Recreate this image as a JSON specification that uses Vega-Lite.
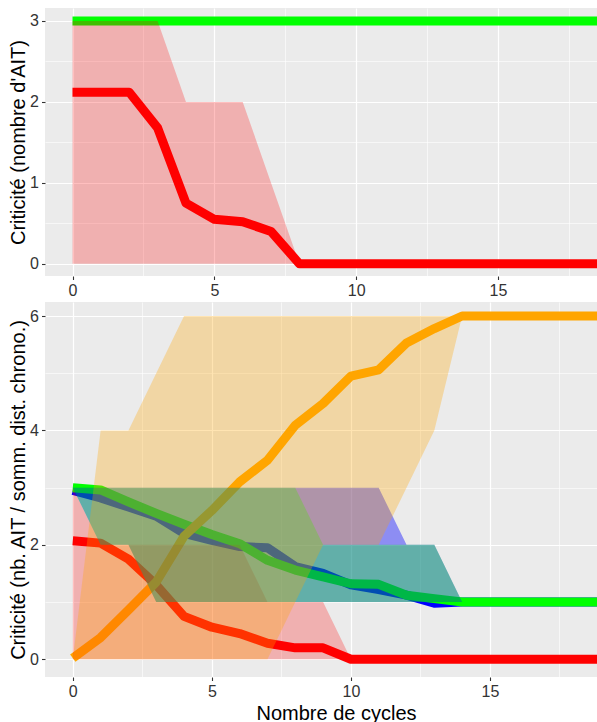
{
  "$schema": "https://vega.github.io/schema/vega-lite/v6.json",
  "padding": {"left": 8, "top": 8, "right": 0, "bottom": 0},
  "background": "white",
  "spacing": 26,
  "bounds": "flush",
  "config": {
    "view": {"fill": "#EBEBEB", "stroke": null},
    "font": "Liberation Sans",
    "axis": {
      "domain": false,
      "gridColor": "#FFFFFF",
      "tickColor": "#333333",
      "tickSize": 3.5,
      "tickWidth": 1.1,
      "labelFont": "Liberation Sans",
      "labelFontSize": 16,
      "labelColor": "#333333",
      "labelPadding": 3,
      "titleFont": "Liberation Sans",
      "titleFontSize": 20,
      "titleFontWeight": "normal",
      "titleColor": "#000000"
    },
    "axisY": {"titlePadding": 1}
  },
  "datasets": {
    "top": [
      {"s": "red", "x": 0, "y": 2.12, "lo": 0, "hi": 3},
      {"s": "red", "x": 1, "y": 2.12, "lo": 0, "hi": 3},
      {"s": "red", "x": 2, "y": 2.12, "lo": 0, "hi": 3},
      {"s": "red", "x": 3, "y": 1.68, "lo": 0, "hi": 3},
      {"s": "red", "x": 4, "y": 0.75, "lo": 0, "hi": 2},
      {"s": "red", "x": 5, "y": 0.55, "lo": 0, "hi": 2},
      {"s": "red", "x": 6, "y": 0.52, "lo": 0, "hi": 2},
      {"s": "red", "x": 7, "y": 0.4, "lo": 0, "hi": 1},
      {"s": "red", "x": 8, "y": 0, "lo": 0, "hi": 0},
      {"s": "red", "x": 9, "y": 0, "lo": null, "hi": null},
      {"s": "red", "x": 10, "y": 0, "lo": null, "hi": null},
      {"s": "red", "x": 11, "y": 0, "lo": null, "hi": null},
      {"s": "red", "x": 12, "y": 0, "lo": null, "hi": null},
      {"s": "red", "x": 13, "y": 0, "lo": null, "hi": null},
      {"s": "red", "x": 14, "y": 0, "lo": null, "hi": null},
      {"s": "red", "x": 15, "y": 0, "lo": null, "hi": null},
      {"s": "red", "x": 16, "y": 0, "lo": null, "hi": null},
      {"s": "red", "x": 17, "y": 0, "lo": null, "hi": null},
      {"s": "red", "x": 18, "y": 0, "lo": null, "hi": null},
      {"s": "red", "x": 19, "y": 0, "lo": null, "hi": null},
      {"s": "red", "x": 20, "y": 0, "lo": null, "hi": null},
      {"s": "green", "x": 0, "y": 3}, {"s": "green", "x": 1, "y": 3}, {"s": "green", "x": 2, "y": 3},
      {"s": "green", "x": 3, "y": 3}, {"s": "green", "x": 4, "y": 3}, {"s": "green", "x": 5, "y": 3},
      {"s": "green", "x": 6, "y": 3}, {"s": "green", "x": 7, "y": 3}, {"s": "green", "x": 8, "y": 3},
      {"s": "green", "x": 9, "y": 3}, {"s": "green", "x": 10, "y": 3}, {"s": "green", "x": 11, "y": 3},
      {"s": "green", "x": 12, "y": 3}, {"s": "green", "x": 13, "y": 3}, {"s": "green", "x": 14, "y": 3},
      {"s": "green", "x": 15, "y": 3}, {"s": "green", "x": 16, "y": 3}, {"s": "green", "x": 17, "y": 3},
      {"s": "green", "x": 18, "y": 3}, {"s": "green", "x": 19, "y": 3}, {"s": "green", "x": 20, "y": 3}
    ],
    "bottom": [
      {"s": "red", "x": 0, "y": 2.07, "lo": 0, "hi": 3},
      {"s": "red", "x": 1, "y": 2.03, "lo": 0, "hi": 2},
      {"s": "red", "x": 2, "y": 1.75, "lo": 0, "hi": 2},
      {"s": "red", "x": 3, "y": 1.3, "lo": 0, "hi": 2},
      {"s": "red", "x": 4, "y": 0.75, "lo": 0, "hi": 2},
      {"s": "red", "x": 5, "y": 0.56, "lo": 0, "hi": 2},
      {"s": "red", "x": 6, "y": 0.45, "lo": 0, "hi": 2},
      {"s": "red", "x": 7, "y": 0.28, "lo": 0, "hi": 1},
      {"s": "red", "x": 8, "y": 0.2, "lo": 0, "hi": 1},
      {"s": "red", "x": 9, "y": 0.2, "lo": 0, "hi": 1},
      {"s": "red", "x": 10, "y": 0, "lo": 0, "hi": 0},
      {"s": "red", "x": 11, "y": 0, "lo": null, "hi": null},
      {"s": "red", "x": 12, "y": 0, "lo": null, "hi": null},
      {"s": "red", "x": 13, "y": 0, "lo": null, "hi": null},
      {"s": "red", "x": 14, "y": 0, "lo": null, "hi": null},
      {"s": "red", "x": 15, "y": 0, "lo": null, "hi": null},
      {"s": "red", "x": 16, "y": 0, "lo": null, "hi": null},
      {"s": "red", "x": 17, "y": 0, "lo": null, "hi": null},
      {"s": "red", "x": 18, "y": 0, "lo": null, "hi": null},
      {"s": "red", "x": 19, "y": 0, "lo": null, "hi": null},
      {"s": "red", "x": 20, "y": 0, "lo": null, "hi": null},
      {"s": "blue", "x": 0, "y": 2.95, "lo": 3, "hi": 3},
      {"s": "blue", "x": 1, "y": 2.82, "lo": 2, "hi": 3},
      {"s": "blue", "x": 2, "y": 2.66, "lo": 2, "hi": 3},
      {"s": "blue", "x": 3, "y": 2.5, "lo": 1, "hi": 3},
      {"s": "blue", "x": 4, "y": 2.2, "lo": 1, "hi": 3},
      {"s": "blue", "x": 5, "y": 2.08, "lo": 1, "hi": 3},
      {"s": "blue", "x": 6, "y": 1.97, "lo": 1, "hi": 3},
      {"s": "blue", "x": 7, "y": 1.95, "lo": 1, "hi": 3},
      {"s": "blue", "x": 8, "y": 1.62, "lo": 1, "hi": 3},
      {"s": "blue", "x": 9, "y": 1.5, "lo": 1, "hi": 3},
      {"s": "blue", "x": 10, "y": 1.3, "lo": 1, "hi": 3},
      {"s": "blue", "x": 11, "y": 1.22, "lo": 1, "hi": 3},
      {"s": "blue", "x": 12, "y": 1.12, "lo": 1, "hi": 2},
      {"s": "blue", "x": 13, "y": 0.98, "lo": 1, "hi": 2},
      {"s": "blue", "x": 14, "y": 1.0, "lo": 1, "hi": 1},
      {"s": "blue", "x": 15, "y": 1, "lo": null, "hi": null},
      {"s": "blue", "x": 16, "y": 1, "lo": null, "hi": null},
      {"s": "blue", "x": 17, "y": 1, "lo": null, "hi": null},
      {"s": "blue", "x": 18, "y": 1, "lo": null, "hi": null},
      {"s": "blue", "x": 19, "y": 1, "lo": null, "hi": null},
      {"s": "blue", "x": 20, "y": 1, "lo": null, "hi": null},
      {"s": "green", "x": 0, "y": 3.0, "lo": 3, "hi": 3},
      {"s": "green", "x": 1, "y": 2.96, "lo": 2, "hi": 3},
      {"s": "green", "x": 2, "y": 2.75, "lo": 2, "hi": 3},
      {"s": "green", "x": 3, "y": 2.55, "lo": 1, "hi": 3},
      {"s": "green", "x": 4, "y": 2.36, "lo": 1, "hi": 3},
      {"s": "green", "x": 5, "y": 2.18, "lo": 1, "hi": 3},
      {"s": "green", "x": 6, "y": 2.02, "lo": 1, "hi": 3},
      {"s": "green", "x": 7, "y": 1.73, "lo": 1, "hi": 3},
      {"s": "green", "x": 8, "y": 1.56, "lo": 1, "hi": 3},
      {"s": "green", "x": 9, "y": 1.44, "lo": 1, "hi": 2},
      {"s": "green", "x": 10, "y": 1.32, "lo": 1, "hi": 2},
      {"s": "green", "x": 11, "y": 1.31, "lo": 1, "hi": 2},
      {"s": "green", "x": 12, "y": 1.12, "lo": 1, "hi": 2},
      {"s": "green", "x": 13, "y": 1.06, "lo": 1, "hi": 2},
      {"s": "green", "x": 14, "y": 1.0, "lo": 1, "hi": 1},
      {"s": "green", "x": 15, "y": 1, "lo": null, "hi": null},
      {"s": "green", "x": 16, "y": 1, "lo": null, "hi": null},
      {"s": "green", "x": 17, "y": 1, "lo": null, "hi": null},
      {"s": "green", "x": 18, "y": 1, "lo": null, "hi": null},
      {"s": "green", "x": 19, "y": 1, "lo": null, "hi": null},
      {"s": "green", "x": 20, "y": 1, "lo": null, "hi": null},
      {"s": "orange", "x": 0, "y": 0.02, "lo": 0, "hi": 0},
      {"s": "orange", "x": 1, "y": 0.38, "lo": 0, "hi": 4},
      {"s": "orange", "x": 2, "y": 0.86, "lo": 0, "hi": 4},
      {"s": "orange", "x": 3, "y": 1.35, "lo": 0, "hi": 5},
      {"s": "orange", "x": 4, "y": 2.15, "lo": 0, "hi": 6},
      {"s": "orange", "x": 5, "y": 2.6, "lo": 0, "hi": 6},
      {"s": "orange", "x": 6, "y": 3.1, "lo": 0, "hi": 6},
      {"s": "orange", "x": 7, "y": 3.48, "lo": 0, "hi": 6},
      {"s": "orange", "x": 8, "y": 4.09, "lo": 1, "hi": 6},
      {"s": "orange", "x": 9, "y": 4.47, "lo": 2, "hi": 6},
      {"s": "orange", "x": 10, "y": 4.95, "lo": 2, "hi": 6},
      {"s": "orange", "x": 11, "y": 5.06, "lo": 2, "hi": 6},
      {"s": "orange", "x": 12, "y": 5.53, "lo": 3, "hi": 6},
      {"s": "orange", "x": 13, "y": 5.78, "lo": 4, "hi": 6},
      {"s": "orange", "x": 14, "y": 6.0, "lo": 6, "hi": 6},
      {"s": "orange", "x": 15, "y": 6, "lo": null, "hi": null},
      {"s": "orange", "x": 16, "y": 6, "lo": null, "hi": null},
      {"s": "orange", "x": 17, "y": 6, "lo": null, "hi": null},
      {"s": "orange", "x": 18, "y": 6, "lo": null, "hi": null},
      {"s": "orange", "x": 19, "y": 6, "lo": null, "hi": null},
      {"s": "orange", "x": 20, "y": 6, "lo": null, "hi": null}
    ]
  },
  "vconcat": [
    {
      "width": 552,
      "height": 268,
      "data": {"name": "top"},
      "encoding": {
        "x": {
          "field": "x", "type": "quantitative",
          "scale": {"domain": [-0.97, 18.49], "nice": false, "zero": false},
          "axis": {
            "title": null,
            "values": [0, 2.5, 5, 7.5, 10, 12.5, 15, 17.5],
            "labelExpr": "datum.value % 5 === 0 ? '' + datum.value : ''",
            "gridWidth": {"condition": {"test": "datum.value % 5 === 0", "value": 1.2}, "value": 0.6},
            "tickOpacity": {"condition": {"test": "datum.value % 5 === 0", "value": 1}, "value": 0}
          }
        }
      },
      "layer": [
        {
          "transform": [{"filter": "datum.s === 'red'"}],
          "mark": {"type": "line", "color": "#FF0000", "strokeWidth": 9, "clip": true, "strokeJoin": "round", "strokeCap": "butt"},
          "encoding": {
            "y": {
              "field": "y", "type": "quantitative",
              "scale": {"domain": [-0.15, 3.16], "nice": false, "zero": false},
              "axis": {
                "title": "Criticité (nombre d'AIT)",
                "values": [0, 0.5, 1, 1.5, 2, 2.5, 3],
                "labelExpr": "datum.value % 1 === 0 ? '' + datum.value : ''",
                "gridWidth": {"condition": {"test": "datum.value % 1 === 0", "value": 1.2}, "value": 0.6},
                "tickOpacity": {"condition": {"test": "datum.value % 1 === 0", "value": 1}, "value": 0}
              }
            }
          }
        },
        {
          "transform": [{"filter": "datum.s === 'green'"}],
          "mark": {"type": "line", "color": "#00FF00", "strokeWidth": 9, "clip": true, "strokeJoin": "round", "strokeCap": "butt"},
          "encoding": {
            "y": {"field": "y", "type": "quantitative", "title": "Criticité (nombre d'AIT)"}
          }
        },
        {
          "transform": [{"filter": "datum.s === 'red'"}],
          "mark": {"type": "area", "color": "#FF0000", "opacity": 0.25, "clip": true},
          "encoding": {
            "y": {"field": "lo", "type": "quantitative", "title": "Criticité (nombre d'AIT)"},
            "y2": {"field": "hi"}
          }
        }
      ]
    },
    {
      "width": 552,
      "height": 375,
      "data": {"name": "bottom"},
      "encoding": {
        "x": {
          "field": "x", "type": "quantitative",
          "scale": {"domain": [-1.0, 18.85], "nice": false, "zero": false},
          "axis": {
            "title": "Nombre de cycles",
            "titleX": 291,
            "titleY": 42,
            "titleBaseline": "alphabetic",
            "values": [0, 2.5, 5, 7.5, 10, 12.5, 15, 17.5],
            "labelExpr": "datum.value % 5 === 0 ? '' + datum.value : ''",
            "gridWidth": {"condition": {"test": "datum.value % 5 === 0", "value": 1.2}, "value": 0.6},
            "tickOpacity": {"condition": {"test": "datum.value % 5 === 0", "value": 1}, "value": 0}
          }
        }
      },
      "layer": [
        {
          "transform": [{"filter": "datum.s === 'red'"}],
          "mark": {"type": "line", "color": "#FF0000", "strokeWidth": 9, "clip": true, "strokeJoin": "round", "strokeCap": "butt"},
          "encoding": {
            "y": {
              "field": "y", "type": "quantitative",
              "scale": {"domain": [-0.31, 6.245], "nice": false, "zero": false},
              "axis": {
                "title": "Criticité (nb. AIT / somm. dist. chrono.)",
                "values": [0, 1, 2, 3, 4, 5, 6],
                "labelExpr": "datum.value % 2 === 0 ? '' + datum.value : ''",
                "gridWidth": {"condition": {"test": "datum.value % 2 === 0", "value": 1.2}, "value": 0.6},
                "tickOpacity": {"condition": {"test": "datum.value % 2 === 0", "value": 1}, "value": 0}
              }
            }
          }
        },
        {
          "transform": [{"filter": "datum.s === 'blue'"}],
          "mark": {"type": "line", "color": "#0000FF", "strokeWidth": 9, "clip": true, "strokeJoin": "round", "strokeCap": "butt"},
          "encoding": {"y": {"field": "y", "type": "quantitative", "title": "Criticité (nb. AIT / somm. dist. chrono.)"}}
        },
        {
          "transform": [{"filter": "datum.s === 'green'"}],
          "mark": {"type": "line", "color": "#00FF00", "strokeWidth": 9, "clip": true, "strokeJoin": "round", "strokeCap": "butt"},
          "encoding": {"y": {"field": "y", "type": "quantitative", "title": "Criticité (nb. AIT / somm. dist. chrono.)"}}
        },
        {
          "transform": [{"filter": "datum.s === 'orange'"}],
          "mark": {"type": "line", "color": "#FFA500", "strokeWidth": 9, "clip": true, "strokeJoin": "round", "strokeCap": "butt"},
          "encoding": {"y": {"field": "y", "type": "quantitative", "title": "Criticité (nb. AIT / somm. dist. chrono.)"}}
        },
        {
          "transform": [{"filter": "datum.s === 'red'"}],
          "mark": {"type": "area", "color": "#FF0000", "opacity": 0.25, "clip": true},
          "encoding": {"y": {"field": "lo", "type": "quantitative", "title": "Criticité (nb. AIT / somm. dist. chrono.)"}, "y2": {"field": "hi"}}
        },
        {
          "transform": [{"filter": "datum.s === 'blue'"}],
          "mark": {"type": "area", "color": "#0000FF", "opacity": 0.4, "clip": true},
          "encoding": {"y": {"field": "lo", "type": "quantitative", "title": "Criticité (nb. AIT / somm. dist. chrono.)"}, "y2": {"field": "hi"}}
        },
        {
          "transform": [{"filter": "datum.s === 'green'"}],
          "mark": {"type": "area", "color": "#00FF00", "opacity": 0.3, "clip": true},
          "encoding": {"y": {"field": "lo", "type": "quantitative", "title": "Criticité (nb. AIT / somm. dist. chrono.)"}, "y2": {"field": "hi"}}
        },
        {
          "transform": [{"filter": "datum.s === 'orange'"}],
          "mark": {"type": "area", "color": "#FFA500", "opacity": 0.3, "clip": true},
          "encoding": {"y": {"field": "lo", "type": "quantitative", "title": "Criticité (nb. AIT / somm. dist. chrono.)"}, "y2": {"field": "hi"}}
        }
      ]
    }
  ]
}
